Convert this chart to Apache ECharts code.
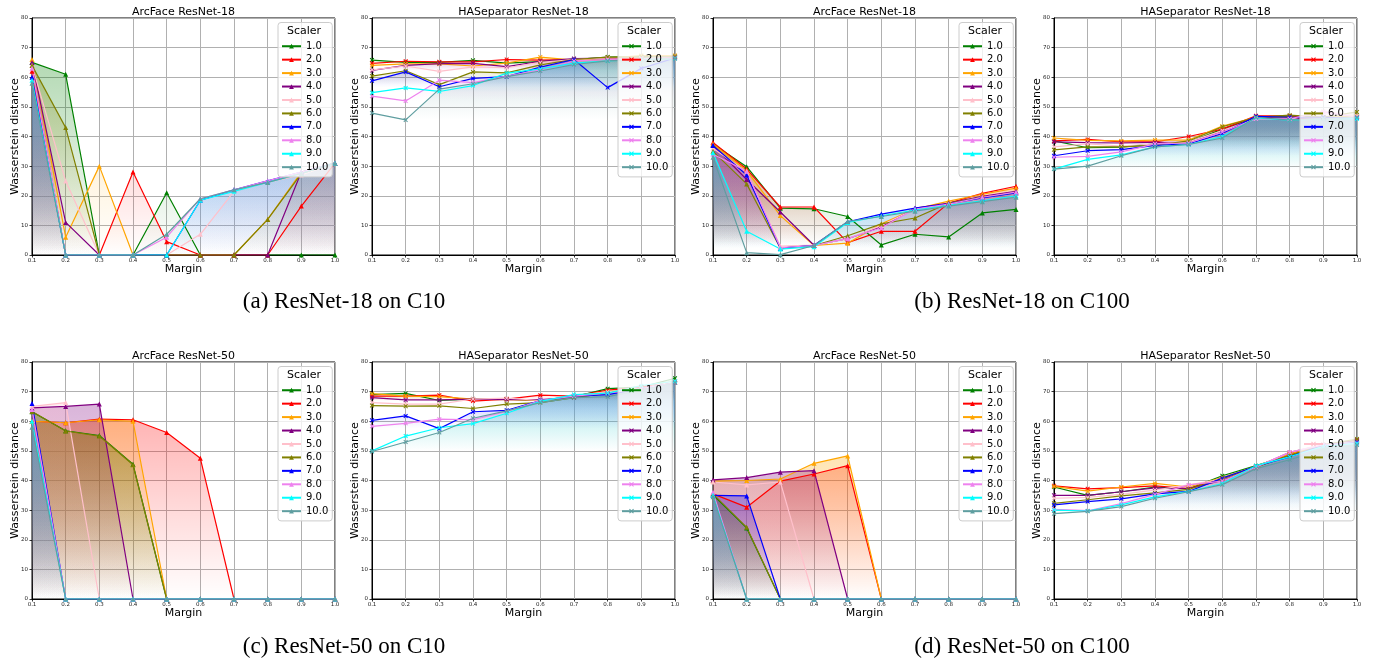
<!DOCTYPE html>
<html><head><meta charset="utf-8">
<script src="https://cdn.jsdelivr.net/npm/echarts@6/dist/echarts.min.js"></script>
<style>html,body{margin:0;padding:0;background:#fff}#c{width:1374px;height:662px}</style>
</head><body><div id="c"></div>
<script>
const margins = ['0.1','0.2','0.3','0.4','0.5','0.6','0.7','0.8','0.9','1.0'];
const scalers = ['1.0','2.0','3.0','4.0','5.0','6.0','7.0','8.0','9.0','10.0'];
const yTicks = [0,10,20,30,40,50,60,70,80];
const colors = ['#008000','#ff0000','#ffa500','#800080','#ffc0cb','#808000','#0000ff','#ee82ee','#00ffff','#5f9ea0'];

// (a) ResNet-18 on C10 - ArcFace
const arcR18C10 = [
  [65, 61, 0, 0, 21, 0, 0, 0, 0, 0],
  [62, 0, 0, 28, 4.5, 0, 0, 0, 16.5, 31],
  [66, 6, 30, 0, 0, 0, 0, 12, 28, 31],
  [65, 11, 0, 0, 0, 0, 0, 0, 28, 31],
  [64, 25, 0, 0, 0, 7, 21.5, 24.5, 27, 31],
  [64, 43, 0, 0, 0, 0, 0, 12, 27.5, 31],
  [60, 0, 0, 0, 0, 18.5, 22, 25, 28, 31],
  [63, 0, 0, 0, 6, 19, 22, 25, 28, 31],
  [59, 0, 0, 0, 0, 18.5, 21.5, 24.5, 27.5, 31],
  [58, 0, 0, 0, 7, 19, 22, 24.5, 27.5, 31]
];
// (a) ResNet-18 on C10 - HASeparator
const hasR18C10 = [
  [65.8, 65, 65, 65.7, 64.8, 65.3, 66, 66.8, 67, 67],
  [64.7, 65.4, 65.2, 65.2, 66, 65.8, 66, 66.5, 66.5, 66.8],
  [64, 64.5, 64.5, 63.8, 64.8, 66.8, 65.8, 66.5, 67.3, 67.3],
  [62.3, 64, 64.6, 64.7, 63.6, 65.4, 66.3, 66.5, 66.5, 66.8],
  [62.5, 63.8, 62, 63.5, 63.2, 65, 66, 66.5, 66.5, 67],
  [60.4, 62.2, 57.5, 61.8, 61.5, 64.2, 66, 66.8, 66.8, 67],
  [58.8, 61.8, 56.8, 59.6, 60.2, 63.4, 66, 56.5, 63, 66.5],
  [53.6, 52, 59, 58.2, 60.4, 62.5, 65.5, 66, 66.3, 66.5],
  [54.8, 56.4, 55.2, 57.2, 61.4, 62.8, 64.8, 65.5, 66, 66.3],
  [47.9, 45.6, 56, 57.8, 60.2, 62.1, 64.3, 65.5, 66, 66.3]
];
// (b) ResNet-18 on C100 - ArcFace
const arcR18C100 = [
  [37.5, 29.8, 15.8, 15.6, 13, 3.4, 7, 6.1, 14.2, 15.4],
  [38, 29, 16.2, 16.2, 4.2, 8, 8, 17.5, 20.8, 23.2],
  [37.5, 28.5, 13.3, 3.2, 4, 10.5, 15.5, 18.2, 20.5, 22.6],
  [37, 25.5, 14.5, 3.3, 5.5, 9.5, 15.8, 17.5, 19.8, 21.5],
  [36, 28, 3, 3.3, 5.5, 10, 15.5, 17.2, 19.5, 21],
  [35, 24, 2.3, 3.2, 6.5, 10.5, 12.5, 17.5, 19.5, 21],
  [37, 27, 2.3, 3.3, 11.2, 13.8, 15.8, 17.3, 19.3, 21],
  [34, 28.3, 2.5, 3.2, 5.6, 9.2, 15.5, 17.2, 19.5, 21.2],
  [34.5, 8, 2, 2.8, 11, 13.2, 15.2, 16.8, 18.3, 20],
  [33, 0.8, 0.1, 3.2, 11.3, 13, 14.8, 16.5, 18, 19.5]
];
// (b) ResNet-18 on C100 - HASeparator
const hasR18C100 = [
  [38.5, 36.2, 36.4, 37.5, 38, 42.5, 46.5, 46.8, 46.5, 46.8],
  [38.5, 39, 38.2, 38.2, 40, 42.5, 47, 47, 46, 46.5],
  [39.5, 38.7, 38.5, 38.8, 38.8, 43.5, 46.5, 46.5, 46.5, 47],
  [38.2, 37.9, 37.8, 38, 38, 41.8, 46.5, 46, 46, 46.5],
  [36.5, 37.5, 36.8, 37.5, 38.2, 42, 46, 45.8, 48.5, 47],
  [35.5, 36.5, 36.5, 37, 38.5, 43.3, 46.5, 47.2, 46.5, 48.3],
  [33.5, 35.2, 35.6, 37, 37.5, 41, 46.8, 46.5, 46.5, 46.3],
  [33, 33.3, 34.8, 37.5, 37.8, 41.5, 46, 46, 48.3, 46.5],
  [29, 32.3, 33.8, 36.5, 37.3, 40, 46.3, 45.5, 46, 46],
  [29, 30, 33.5, 36.5, 37.3, 39.5, 46.5, 45.5, 46, 46.5]
];
// (c) ResNet-50 on C10 - ArcFace
const arcR50C10 = [
  [63.2, 56.8, 55.2, 45.5, 0, 0, 0, 0, 0, 0],
  [60, 59.5, 60.7, 60.5, 56.2, 47.5, 0, 0, 0, 0],
  [60, 59.5, 60.5, 60, 0, 0, 0, 0, 0, 0],
  [64.5, 65, 65.8, 0, 0, 0, 0, 0, 0, 0],
  [65, 66.3, 0, 0, 0, 0, 0, 0, 0, 0],
  [63.3, 56.7, 55, 45.3, 0, 0, 0, 0, 0, 0],
  [66, 0, 0, 0, 0, 0, 0, 0, 0, 0],
  [64, 0, 0, 0, 0, 0, 0, 0, 0, 0],
  [60, 0, 0, 0, 0, 0, 0, 0, 0, 0],
  [58, 0, 0, 0, 0, 0, 0, 0, 0, 0]
];
// (c) ResNet-50 on C10 - HASeparator
const hasR50C10 = [
  [69, 69.4, 67, 67.5, 67.5, 67, 68.2, 71, 71.5, 74.5],
  [68.5, 68.5, 68.8, 66.8, 67.5, 68.8, 68.5, 70.5, 71.5, 73.5],
  [69.3, 68.5, 68.3, 67.5, 67.3, 67, 68.5, 70, 71, 73],
  [68, 67.2, 67.2, 67.5, 67.3, 67.3, 68, 69.5, 71, 73],
  [66.3, 65.8, 65.8, 67.5, 67.8, 67, 68.5, 70, 71, 73.5],
  [65.3, 65.1, 65.2, 64.3, 65.8, 66.3, 68, 69.5, 71, 73],
  [60.3, 61.8, 57.5, 63.2, 63.7, 67, 68.5, 69, 71, 73],
  [58.3, 59.3, 60.7, 60.5, 63.3, 67, 68.5, 69.5, 71, 73],
  [50, 55, 57.8, 59.2, 62.7, 66.7, 69, 69.5, 72, 73.5],
  [49.8, 53, 56.2, 61, 63.5, 66.3, 68, 68.3, 70.5, 73]
];
// (d) ResNet-50 on C100 - ArcFace
const arcR50C100 = [
  [35.2, 24, 0, 0, 0, 0, 0, 0, 0, 0],
  [35.5, 31, 39.8, 42.2, 45, 0, 0, 0, 0, 0],
  [39.8, 40, 40.5, 45.8, 48.3, 0, 0, 0, 0, 0],
  [40.2, 41, 42.8, 43.3, 0, 0, 0, 0, 0, 0],
  [39.5, 38.5, 39.5, 0, 0, 0, 0, 0, 0, 0],
  [35.5, 24.2, 0, 0, 0, 0, 0, 0, 0, 0],
  [35, 34.8, 0, 0, 0, 0, 0, 0, 0, 0],
  [36, 0, 0, 0, 0, 0, 0, 0, 0, 0],
  [35, 0, 0, 0, 0, 0, 0, 0, 0, 0],
  [34.5, 0, 0, 0, 0, 0, 0, 0, 0, 0]
];
// (d) ResNet-50 on C100 - HASeparator
const hasR50C100 = [
  [37.8, 35, 36.2, 37.8, 37.2, 41.6, 45, 48.5, 52, 53.5],
  [38.2, 37.2, 37.6, 38.2, 37.3, 40.5, 44.5, 49, 52, 53.5],
  [38, 36.4, 37.8, 39, 37.8, 41, 44.8, 49, 52, 53.2],
  [35, 35, 36.2, 37.5, 37.3, 40, 44.5, 49.5, 52, 53.5],
  [34, 34.3, 35.3, 36.8, 38.5, 40.5, 44.5, 49.5, 52.3, 53],
  [32.3, 33.5, 34.8, 35.8, 37, 40.5, 44.5, 48.5, 52, 54],
  [31.8, 32.9, 33.8, 35.5, 36.3, 40.8, 44.8, 48, 52, 52.8],
  [30.3, 29.8, 32.2, 35.3, 38.5, 39.8, 44.5, 49.5, 52, 52.5],
  [30, 29.7, 31.8, 34.5, 36.3, 39, 45, 48, 51.5, 52.5],
  [28.8, 29.6, 31.2, 34, 36.2, 38.6, 44, 47, 50.5, 52]
];

const panelTitles = ['ArcFace ResNet-18','HASeparator ResNet-18','ArcFace ResNet-18','HASeparator ResNet-18',
                     'ArcFace ResNet-50','HASeparator ResNet-50','ArcFace ResNet-50','HASeparator ResNet-50'];
const panelData = [arcR18C10, hasR18C10, arcR18C100, hasR18C100, arcR50C10, hasR50C10, arcR50C100, hasR50C100];
const captions = ['(a) ResNet-18 on C10','(b) ResNet-18 on C100','(c) ResNet-50 on C10','(d) ResNet-50 on C100'];

const FONT = 'DejaVu Sans';
const colLefts = [32, 372, 713, 1054];
const rowTops = [18, 362];
const GW = 303, GH = 237;
const xPath = 'path://M0,1.6L1.6,0L5,3.4L8.4,0L10,1.6L6.6,5L10,8.4L8.4,10L5,6.6L1.6,10L0,8.4L3.4,5Z';

function rgba(hex, a) {
  const n = parseInt(hex.slice(1), 16);
  return 'rgba(' + (n >> 16 & 255) + ',' + (n >> 8 & 255) + ',' + (n & 255) + ',' + a + ')';
}

const grids = [], xAxes = [], yAxes = [], series = [], legends = [], graphics = [];
panelData.forEach((data, p) => {
  const left = colLefts[p % 4], top = rowTops[Math.floor(p / 4)];
  const isArc = p % 2 === 0;
  const prefix = isArc ? 'A|' : 'H|';
  grids.push({left: left, top: top, width: GW, height: GH, show: true, borderColor: '#000', borderWidth: 1,
              backgroundColor: 'transparent', containLabel: false, outerBoundsMode: 'none'});
  xAxes.push({type: 'category', gridIndex: p, data: margins, boundaryGap: false,
    name: 'Margin', nameLocation: 'middle', nameGap: 8.5, nameMoveOverlap: false,
    nameTextStyle: {fontFamily: FONT, fontSize: 11, color: '#000'},
    axisLine: {show: true, lineStyle: {color: '#000', width: 1}},
    axisTick: {show: true, inside: false, length: 2.5, interval: 0, alignWithLabel: true, lineStyle: {color: '#000', width: 0.8}},
    axisLabel: {interval: 0, fontFamily: FONT, fontSize: 5.5, color: '#222', margin: 3},
    splitLine: {show: true, interval: 0, lineStyle: {color: '#b0b0b0', width: 1}}
  });
  yAxes.push({type: 'value', gridIndex: p, min: yTicks[0], max: yTicks[yTicks.length - 1], interval: 10,
    name: 'Wasserstein distance', nameLocation: 'middle', nameGap: 11.5, nameRotate: 90, nameMoveOverlap: false,
    nameTextStyle: {fontFamily: FONT, fontSize: 11, color: '#000'},
    axisLine: {show: true, lineStyle: {color: '#000', width: 1}},
    axisTick: {show: true, inside: false, length: 2.5, lineStyle: {color: '#000', width: 0.8}},
    axisLabel: {fontFamily: FONT, fontSize: 5.5, color: '#222', margin: 4},
    splitLine: {show: true, lineStyle: {color: '#b0b0b0', width: 1}}
  });
  const names = [];
  data.forEach((vals, i) => {
    const nm = prefix + scalers[i];
    names.push(nm);
    series.push({
      type: 'line', name: nm, xAxisIndex: p, yAxisIndex: p, data: vals,
      symbol: isArc ? 'triangle' : xPath, symbolSize: isArc ? 5 : 4.5, showSymbol: true,
      lineStyle: {color: colors[i], width: 1.2},
      itemStyle: {color: colors[i]},
      areaStyle: {origin: Math.min.apply(null, vals),
        color: {type: 'linear', x: 0, y: 0, x2: 0, y2: 1,
          colorStops: [{offset: 0, color: rgba(colors[i], 0.42)}, {offset: 1, color: rgba(colors[i], 0)}]}},
      silent: true, animation: false, emphasis: {disabled: true}
    });
  });
  legends.push({
    data: names, orient: 'vertical', left: left + 246, top: top + 4.5,
    padding: [17, 4, 3, 3], itemGap: 0, itemWidth: 19, itemHeight: 6,
    formatter: function (n) { return n.split('|')[1]; },
    textStyle: {fontFamily: FONT, fontSize: 10, color: '#000', lineHeight: 13.44},
    backgroundColor: 'rgba(255,255,255,0.8)', borderColor: '#cccccc', borderWidth: 1, borderRadius: 3,
    selectedMode: false
  });
  graphics.push({type: 'text', z: 100, x: left + GW / 2, y: top - 5.5,
    style: {text: panelTitles[p], fontFamily: FONT, fontSize: 11, fill: '#000',
            align: 'center', textAlign: 'center', verticalAlign: 'middle', textVerticalAlign: 'middle'}});
  graphics.push({type: 'text', z: 100, x: left + 272, y: top + 12.9,
    style: {text: 'Scaler', fontFamily: FONT, fontSize: 11, fill: '#000',
            align: 'center', textAlign: 'center', verticalAlign: 'middle', textVerticalAlign: 'middle'}});
});
const capPos = [[344, 302], [1022, 302], [344, 647], [1022, 647]];
captions.forEach((c, k) => {
  graphics.push({type: 'text', z: 100, x: capPos[k][0], y: capPos[k][1],
    style: {text: c, fontFamily: 'Liberation Serif', fontSize: 23, fill: '#000',
            align: 'center', textAlign: 'center', verticalAlign: 'middle', textVerticalAlign: 'middle'}});
});

const chart = echarts.init(document.getElementById('c'), null, {renderer: 'canvas'});
chart.setOption({
  animation: false,
  backgroundColor: '#fff',
  grid: grids, xAxis: xAxes, yAxis: yAxes, series: series, legend: legends,
  graphic: graphics, tooltip: {show: false}
});
</script>
</body></html>
